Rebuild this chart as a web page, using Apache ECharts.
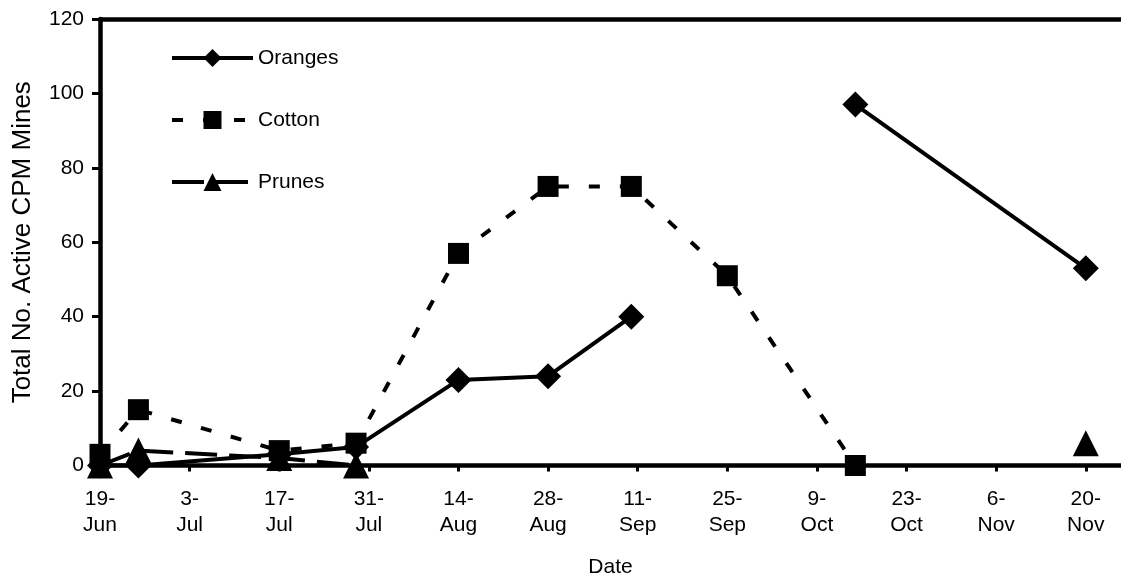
<!DOCTYPE html>
<html><head><meta charset="utf-8">
<script src="https://cdn.jsdelivr.net/npm/echarts@6/dist/echarts.min.js"></script>
<style>html,body{margin:0;padding:0;background:#fff}#c{width:1121px;height:578px}</style>
</head><body><div id="c"></div>
<script>
const START = '2002-06-19';
const dates = ['2002-06-19','2002-06-25','2002-07-17','2002-07-29','2002-08-14','2002-08-28','2002-09-10','2002-09-25','2002-10-15','2002-11-20'];
const oranges = [0, 0, 3, 5, 23, 24, 40, null, 97, 53];
const cotton  = [3, 15, 4, 6, 57, 75, 75, 51, 0, null];
const prunes  = [0, 4, 2, 0, null, null, null, null, null, 6];
const tickLabels = ['19-\nJun','3-\nJul','17-\nJul','31-\nJul','14-\nAug','28-\nAug','11-\nSep','25-\nSep','9-\nOct','23-\nOct','6-\nNov','20-\nNov'];

const FONT = '"Liberation Sans", Arial, sans-serif';
const dayOf = d => (Date.parse(d) - Date.parse(START)) / 86400000;
const pairs = vals => dates.map((d, i) => [dayOf(d), vals[i]]);

const chart = echarts.init(document.getElementById('c'), null, {renderer: 'canvas'});
chart.setOption({
  animation: false,
  backgroundColor: '#fff',
  textStyle: {fontFamily: FONT, color: '#000'},
  grid: {left: 100, right: 0, top: 19, bottom: 112.5, containLabel: false, outerBoundsMode: 'none'},
  legend: {
    orient: 'vertical', left: 165, top: 41.75, padding: 5,
    itemWidth: 81, itemHeight: 22.5, itemGap: 39.5,
    lineStyle: {width: 4},
    textStyle: {fontFamily: FONT, fontSize: 21, color: '#000', lineHeight: 22.5},
    data: ['Oranges', 'Cotton', 'Prunes']
  },
  xAxis: [{
    type: 'value', min: 0, max: 159.5, interval: 14,
    name: 'Date', nameLocation: 'middle', nameGap: 90,
    nameTextStyle: {fontFamily: FONT, fontSize: 21, color: '#000', lineHeight: 24},
    axisLine: {show: true, onZero: false, lineStyle: {color: '#000', width: 4.5}},
    axisTick: {show: true, inside: false, length: 6, lineStyle: {color: '#000', width: 3}},
    axisLabel: {
      margin: 21, fontFamily: FONT, fontSize: 21, color: '#000', lineHeight: 26,
      showMaxLabel: false,
      formatter: v => (v % 14 === 0 ? (tickLabels[v / 14] || '') : '')
    },
    splitLine: {show: false}
  }, {
    type: 'value', position: 'top', min: 0, max: 159.5,
    axisLine: {show: true, onZero: false, lineStyle: {color: '#000', width: 4.5}},
    axisTick: {show: false}, axisLabel: {show: false}, splitLine: {show: false}
  }],
  yAxis: {
    type: 'value', min: 0, max: 120, interval: 20,
    name: 'Total No. Active CPM Mines', nameLocation: 'middle', nameGap: 61, nameRotate: 90,
    nameTextStyle: {fontFamily: FONT, fontSize: 26, color: '#000', lineHeight: 30},
    axisLine: {show: true, onZero: false, lineStyle: {color: '#000', width: 4.5}},
    axisTick: {show: true, inside: false, length: 8, lineStyle: {color: '#000', width: 3}},
    axisLabel: {margin: 16, fontFamily: FONT, fontSize: 21, color: '#000'},
    splitLine: {show: false}
  },
  series: [{
    name: 'Oranges', type: 'line', data: pairs(oranges),
    symbol: 'diamond', symbolSize: 26, connectNulls: false,
    lineStyle: {color: '#000', width: 4, type: 'solid'},
    itemStyle: {color: '#000'}
  }, {
    name: 'Cotton', type: 'line', data: pairs(cotton),
    symbol: 'rect', symbolSize: 21, connectNulls: false,
    lineStyle: {color: '#000', width: 4, type: [11, 20], cap: 'butt'},
    itemStyle: {color: '#000'}
  }, {
    name: 'Prunes', type: 'line', data: pairs(prunes),
    symbol: 'triangle', symbolSize: 26, connectNulls: false,
    lineStyle: {color: '#000', width: 4, type: [32, 12], cap: 'butt'},
    itemStyle: {color: '#000'}
  }]
});
</script></body></html>
